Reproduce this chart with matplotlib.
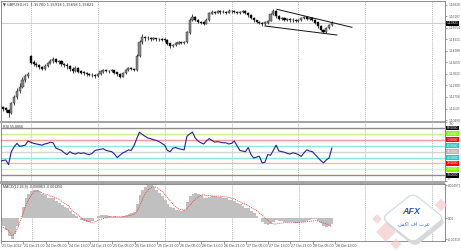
import matplotlib
matplotlib.use("Agg")
import matplotlib.pyplot as plt
import matplotlib.transforms as mtransforms
from matplotlib.patches import Rectangle, FancyBboxPatch

W, H, DPI = 461, 250, 100

# GBPUSD H1, 21 Oct 2022 13:00 .. 28 Oct 2022 12:00 (120 bars)
closes = [1.1120, 1.1112, 1.1105, 1.1085, 1.1140, 1.1175, 1.1210, 1.1232, 1.1270, 1.1290,
          1.1300, 1.1365, 1.1358, 1.1350, 1.1340, 1.1330, 1.1345, 1.1360, 1.1375, 1.1385,
          1.1370, 1.1372, 1.1355, 1.1350, 1.1345, 1.1330, 1.1320, 1.1335, 1.1315, 1.1310,
          1.1305, 1.1300, 1.1298, 1.1295, 1.1290, 1.1300, 1.1315, 1.1322, 1.1320, 1.1318,
          1.1322, 1.1310, 1.1300, 1.1287, 1.1305, 1.1325, 1.1335, 1.1330, 1.1325, 1.1400,
          1.1480, 1.1505, 1.1498, 1.1500, 1.1495, 1.1497, 1.1493, 1.1495, 1.1492, 1.1490,
          1.1470, 1.1455, 1.1462, 1.1470, 1.1475, 1.1472, 1.1478, 1.1530, 1.1600, 1.1615,
          1.1600, 1.1590, 1.1585, 1.1580, 1.1600, 1.1635, 1.1645, 1.1640, 1.1648, 1.1642,
          1.1645, 1.1640, 1.1650, 1.1648, 1.1645, 1.1640, 1.1643, 1.1648, 1.1638, 1.1625,
          1.1612, 1.1598, 1.1590, 1.1582, 1.1575, 1.1585, 1.1595, 1.1630, 1.1650, 1.1620,
          1.1605, 1.1610, 1.1600, 1.1605, 1.1598, 1.1600, 1.1595, 1.1598, 1.1610, 1.1615,
          1.1605, 1.1610, 1.1600, 1.1585, 1.1565, 1.1545, 1.1535, 1.1555, 1.1570, 1.15821]
highs = [1.1135, 1.1128, 1.1120, 1.1110, 1.1148, 1.1185, 1.1225, 1.1250, 1.1285, 1.1300,
         1.1312, 1.1407, 1.1378, 1.1368, 1.1358, 1.1345, 1.1355, 1.1368, 1.1385, 1.1395,
         1.1390, 1.1382, 1.1378, 1.1362, 1.1360, 1.1350, 1.1342, 1.1345, 1.1340, 1.1325,
         1.1318, 1.1312, 1.1308, 1.1305, 1.1302, 1.1308, 1.1322, 1.1330, 1.1330, 1.1326,
         1.1328, 1.1325, 1.1315, 1.1305, 1.1312, 1.1332, 1.1342, 1.1340, 1.1336, 1.1410,
         1.1492, 1.1520, 1.1512, 1.1510, 1.1506, 1.1505, 1.1502, 1.1503, 1.1500, 1.1498,
         1.1494, 1.1474, 1.1468, 1.1476, 1.1482, 1.1480, 1.1485, 1.1538, 1.1612, 1.1630,
         1.1622, 1.1606, 1.1596, 1.1592, 1.1608, 1.1642, 1.1652, 1.1650, 1.1655, 1.1652,
         1.1652, 1.1650, 1.1658, 1.1656, 1.1654, 1.1650, 1.1650, 1.1656, 1.1652, 1.1642,
         1.1630, 1.1616, 1.1602, 1.1595, 1.1588, 1.1592, 1.1602, 1.1638, 1.1662, 1.1655,
         1.1626, 1.1618, 1.1615, 1.1612, 1.1610, 1.1608, 1.1606, 1.1605, 1.1618, 1.1622,
         1.1620, 1.1617, 1.1614, 1.1604, 1.1590, 1.1570, 1.1550, 1.1562, 1.1577, 1.15918]
lows = [1.1108, 1.1100, 1.1092, 1.1066, 1.1080, 1.1130, 1.1165, 1.1195, 1.1225, 1.1260,
        1.1280, 1.1355, 1.1345, 1.1340, 1.1330, 1.1322, 1.1325, 1.1340, 1.1355, 1.1365,
        1.1360, 1.1358, 1.1345, 1.1338, 1.1330, 1.1318, 1.1308, 1.1312, 1.1305, 1.1300,
        1.1296, 1.1292, 1.1290, 1.1287, 1.1282, 1.1285, 1.1296, 1.1310, 1.1312, 1.1310,
        1.1312, 1.1302, 1.1292, 1.1280, 1.1284, 1.1300, 1.1320, 1.1322, 1.1316, 1.1320,
        1.1395, 1.1470, 1.1485, 1.1488, 1.1486, 1.1488, 1.1485, 1.1486, 1.1484, 1.1480,
        1.1462, 1.1448, 1.1450, 1.1458, 1.1465, 1.1465, 1.1468, 1.1472, 1.1525, 1.1595,
        1.1592, 1.1582, 1.1575, 1.1570, 1.1576, 1.1596, 1.1630, 1.1632, 1.1636, 1.1635,
        1.1636, 1.1633, 1.1637, 1.1640, 1.1638, 1.1632, 1.1634, 1.1638, 1.1630, 1.1618,
        1.1605, 1.1590, 1.1582, 1.1575, 1.1566, 1.1570, 1.1580, 1.1592, 1.1625, 1.1612,
        1.1598, 1.1598, 1.1592, 1.1594, 1.1590, 1.1591, 1.1588, 1.1588, 1.1594, 1.1604,
        1.1598, 1.1600, 1.1593, 1.1578, 1.1558, 1.1538, 1.1528, 1.1530, 1.1550, 1.15658]
first_open = 1.1125
gap_open = 1.1400          # Monday 24 Oct 00:00 opened with a gap
gap_bar = 11

rsi = [34, 35, 36, 28, 50, 58, 64, 59, 60, 61,
       68, 66, 64, 63, 62, 61, 63, 64, 66, 65,
       56, 54, 52, 48, 45, 50, 47, 46, 48, 47,
       48, 46, 45, 47, 52, 53, 54, 55, 52, 51,
       50, 46, 40, 44, 48, 50, 53, 52, 60, 72,
       83, 79, 76, 73, 72, 70, 69, 67, 64, 61,
       52, 50, 56, 57, 55, 54, 53, 76, 80, 83,
       73, 68, 65, 63, 68, 72, 69, 66, 67, 66,
       65, 65, 63, 64, 68, 60, 52, 51, 50, 57,
       45, 39, 41, 42, 31, 32, 45, 44, 52, 61,
       51, 50, 49, 47, 46, 48, 47, 45, 42, 48,
       53, 51, 50, 45, 40, 35, 31, 36, 39, 55.8856]

# MACD(12,26,9) main histogram and signal, in units of 1e-4
macd_main = [-5, -12, -18, -26, -31, -24, -12, 0, 17, 30,
             37, 41, 42, 42, 40, 37, 35, 31, 30, 30,
             26, 23, 20, 17, 15, 11, 7, 4, 1, -2.5,
             -4, -5, -5, -3.5, 0, 3.5, 5, 5, 4.5, 3.5,
             2.5, 3.5, 1.5, 2.5, 3.5, 5, 6.5, 7.5, 10, 22,
             35, 42, 46, 49.71, 49, 46, 42, 38, 33, 27,
             22, 17, 15, 13, 12, 11, 13, 25, 33, 37,
             38, 37, 35, 31, 30, 32, 33, 33, 32, 32,
             31, 30, 28, 27, 26, 23, 21, 18, 16, 15,
             11, 7.5, 3.5, 0, -5, -8.5, -10, -8.5, -5, -2.5,
             -3.5, -4.5, -5, -5, -5.5, -6, -6.5, -6.5, -6, -5,
             -3.5, -2.5, -1.5, -1.5, -3.5, -7.5, -11.5, -13.5, -12, -8.63]
macd_signal = [-12.5, -14, -16, -20, -26, -22, -15, -2.5, 8, 20,
               28, 35, 40, 41, 40, 37, 36, 35, 33, 32,
               30, 28, 25, 22, 20, 15, 10, 7, 4, 0,
               -2.5, -4, -5.5, -6, -5, -3, -1.5, 0, 1.5, 2.5,
               2.5, 2.5, 2.5, 2.5, 2.5, 3, 4, 5, 6.5, 11,
               20, 30, 38, 43, 46, 47, 46, 43, 40, 35,
               30, 25, 20, 16.5, 13.5, 12.5, 12.5, 15, 20, 25,
               29, 32, 35, 35, 34, 34, 33, 33, 33, 33,
               32, 32, 31, 30, 29, 26, 25, 22, 21, 18,
               16, 13.5, 11, 7.5, 4, 0, -3, -6.5, -8.5, -8.5,
               -7.5, -7, -6.5, -6.5, -6.5, -6.5, -6.5, -6.5, -6, -5.5,
               -5, -4.5, -4, -3.5, -4, -5.5, -7, -8.5, -10.5, -12.5]

price_ticks = [1.10490, 1.11123, 1.11756, 1.12389, 1.13022, 1.13655,
               1.14288, 1.14921, 1.15554, 1.16187, 1.16820]
rsi_levels = [90, 80, 70, 60, 50, 40, 30, 20, 10]
rsi_line_colors = ['#8c8c8c', '#c6f29a', '#ff9a9a', '#8fe6e6', '#d4d4d4',
                   '#8fe6e6', '#ffb4b4', '#d6f5c0', '#8c8c8c']
rsi_box_colors = ['#000000', '#7cfc00', '#ff0000', '#20c8c8', '#b4b4b4',
                  '#20c8c8', '#ff0000', '#7cfc00', '#000000']
time_label_bars = [0, 8, 16, 24, 32, 40, 48, 56, 64, 72, 80, 88, 96, 104, 112, 120]
time_labels = ["21 Oct 2022", "21 Oct 21:00", "24 Oct 05:00", "24 Oct 13:00",
               "24 Oct 21:00", "25 Oct 05:00", "25 Oct 13:00", "25 Oct 21:00",
               "26 Oct 05:00", "26 Oct 13:00", "26 Oct 21:00", "27 Oct 05:00",
               "27 Oct 13:00", "27 Oct 21:00", "28 Oct 05:00", "28 Oct 13:00"]
day_grid_bars = [11, 35, 59, 83, 107, 131, 155]
channel_upper = ([99.3, 126.2], [1.16583, 1.15592])
channel_lower = ([95.0, 120.8], [1.15664, 1.15168])
title = "\u25BC GBPUSD,H1  1.15700 1.15918 1.15658 1.15821"

plt.rcParams['font.family'] = ['Liberation Sans', 'DejaVu Sans']
FS = 2.6      # chart texts
FR = 2.3      # right-hand scale labels
XLIM = (0.3, 159.6)


def rect(x0, y0, x1, y1):
    return [x0 / W, 1 - y1 / H, (x1 - x0) / W, (y1 - y0) / H]


def style(ax):
    ax.set_xlim(*XLIM)
    ax.set_xticks([])
    for s in ax.spines.values():
        s.set_color('#7a7a7a')
        s.set_linewidth(0.6)
    ax.yaxis.tick_right()
    ax.tick_params(axis='y', length=1.5, width=0.4, pad=0.8, labelsize=FR,
                   colors='#555555')
    for b in day_grid_bars:
        ax.axvline(b, color='#9a9a9a', lw=0.5, ls=(0, (1.5, 1.5)), zorder=0)


fig = plt.figure(figsize=(W / DPI, H / DPI), dpi=DPI)
fig.patch.set_facecolor('white')

# ---- price panel
ax = fig.add_axes(rect(1, 1, 445, 121))
style(ax)
ax.set_ylim(1.10435, 1.17040)
ax.set_yticks(price_ticks)
ax.set_yticklabels(['%.5f' % t for t in price_ticks])
ax.axhline(closes[-1], color='#c4c4c4', lw=0.6, zorder=1)

bars = list(range(len(closes)))
opens = [first_open] + closes[:-1]
opens[gap_bar] = gap_open
ax.vlines(bars, lows, highs, color='#2a2a2a', lw=0.6, zorder=2)
body_col = ['#8a8a8a' if c >= o else '#000000' for o, c in zip(opens, closes)]
ax.bar(bars, [abs(c - o) + 0.0001 for o, c in zip(opens, closes)],
       bottom=[min(o, c) for o, c in zip(opens, closes)], width=0.75,
       color=body_col, edgecolor='#202020', linewidth=0.3, zorder=3)
ax.plot(*channel_upper, color='#111111', lw=0.7, zorder=4)
ax.plot(*channel_lower, color='#111111', lw=0.7, zorder=4)
ax.text(0.004, 0.985, title, transform=ax.transAxes, fontsize=FS,
        ha='left', va='top', color='#333333', family=['DejaVu Sans'])
trans = mtransforms.blended_transform_factory(ax.transAxes, ax.transData)
ax.text(1.004, closes[-1], '%.5f' % closes[-1], transform=trans, fontsize=FR,
        color='white', ha='left', va='center',
        bbox=dict(boxstyle='square,pad=0.15', fc='black', ec='none'))

# ---- RSI panel
ax2 = fig.add_axes(rect(1, 122.1, 445, 181.2))
style(ax2)
ax2.set_ylim(0, 100)
ax2.set_yticks([100, 0])
ax2.set_yticklabels(['100', '0'])
for lab in ax2.get_yticklabels():
    lab.set_verticalalignment('top' if lab.get_text() == '100' else 'bottom')
trans2 = mtransforms.blended_transform_factory(ax2.transAxes, ax2.transData)
for lv, lc, bc in zip(rsi_levels, rsi_line_colors, rsi_box_colors):
    ax2.axhline(lv, color=lc, lw=1.0, zorder=1)
    ax2.text(1.004, lv, '%.4f' % lv, transform=trans2, fontsize=FR, color='white',
             ha='left', va='center',
             bbox=dict(boxstyle='square,pad=0.15', fc=bc, ec='none'))
ax2.plot(bars, rsi, color='#23239a', lw=0.8, zorder=3)
ax2.text(0.004, 0.955, 'RSI 55.8856', transform=ax2.transAxes, fontsize=FS,
         ha='left', va='top', color='#333333')

# ---- MACD panel
ax3 = fig.add_axes(rect(1, 183.5, 445, 241))
style(ax3)
ax3.set_ylim(-0.003389, 0.005196)
mticks = [max(macd_main) * 1e-4, 0.0, min(macd_main) * 1e-4]
ax3.set_yticks(mticks)
ax3.set_yticklabels(['%.6f' % mticks[0], '0.00', '%.5f' % mticks[2]])
ax3.bar(bars, [v * 1e-4 for v in macd_main], width=1.0, color='#c0c0c0',
        linewidth=0, zorder=2)
ax3.plot(bars, [v * 1e-4 for v in macd_signal], color='#ff3030', lw=0.6,
         ls=(0, (1.2, 1.2)), zorder=3)
ax3.text(0.004, 0.975, 'MACD(12,26,9) -0.000863 -0.001250', transform=ax3.transAxes,
         fontsize=FS, ha='left', va='top', color='#333333')
ax3.set_xticks(time_label_bars)
ax3.set_xticklabels([])
ax3.tick_params(axis='x', length=2, width=0.4, colors='#555555')
trans3 = mtransforms.blended_transform_factory(ax3.transData, ax3.transAxes)
for b, lab in zip(time_label_bars, time_labels):
    ax3.text(b + 0.3, -0.085, lab, transform=trans3, fontsize=FS, ha='left',
             va='center', color='#444444', clip_on=False)

# panel separators
for y0, y1 in [(121, 123), (181, 183.5)]:
    fig.patches.append(Rectangle((0, 1 - y1 / H), 445 / W, (y1 - y0) / H,
                                 transform=fig.transFigure, fc='#a6a6a6', ec='none'))

# ---- watermark (pixel overlay)
ov = fig.add_axes([0, 0, 1, 1], zorder=5)
ov.set_xlim(0, W)
ov.set_ylim(H, 0)
ov.axis('off')
for cx, cy, s in [(386, 232, 14), (441, 205, 9), (377, 219, 7), (396, 244, 8)]:
    ov.add_patch(Rectangle((-s / 2, -s / 2), s, s, fc='#f3caca', ec='none', alpha=0.7,
                           transform=mtransforms.Affine2D().rotate_deg(45).translate(cx, cy) + ov.transData))
diamond_tf = mtransforms.Affine2D().rotate_deg(45).scale(1.0, 0.8)
ov.add_patch(FancyBboxPatch((-22, -22), 44, 44, boxstyle='round,pad=0,rounding_size=7',
                            fc='#d9d9d9', ec='none',
                            transform=diamond_tf + mtransforms.Affine2D().translate(415, 222) + ov.transData))
ov.add_patch(FancyBboxPatch((-22, -22), 44, 44, boxstyle='round,pad=0,rounding_size=7',
                            fc='white', ec='#cfd8e4', lw=0.8,
                            transform=diamond_tf + mtransforms.Affine2D().translate(413, 218) + ov.transData))
ov.text(411, 212, 'AFX', fontsize=6.5, color='#2b5fae', fontweight='bold',
        fontstyle='italic', ha='center', va='center')
ov.text(414, 224, '\uFEB2\uFEDB\uFE8D \uFED1\uFE8D \uFE8F\uFEAE\uFECB', fontsize=3.8,
        color='#2b5fae', ha='center', va='center', family=['DejaVu Sans'])

fig.savefig('out.png', dpi=DPI)
